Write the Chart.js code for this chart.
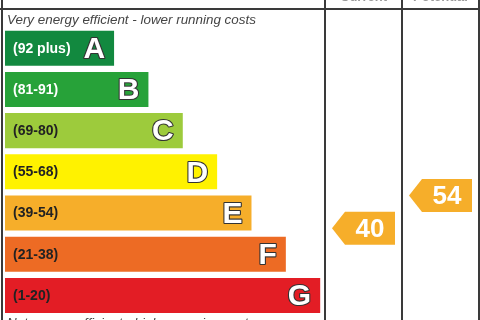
<!DOCTYPE html>
<html><head><meta charset="utf-8">
<script src="https://cdn.jsdelivr.net/npm/chart.js@4/dist/chart.umd.min.js"></script>
<style>html,body{margin:0;padding:0;background:#fff;overflow:hidden}#wrap{width:480px;height:320px;position:relative}</style>
</head><body><div id="wrap"><canvas id="c" width="480" height="320"></canvas></div>
<script>
// ---- data ----
const bands = ['A','B','C','D','E','F','G'];
const bandRanges = ['(92 plus)','(81-91)','(69-80)','(55-68)','(39-54)','(21-38)','(1-20)'];
const bandMin = [92,81,69,55,39,21,1];
const bandMax = [100,91,80,68,54,38,20];
const barSteps = [1,2,3,4,5,6,7];
const columnTitles = ['Current','Potential'];
const ratings = [40, 54];
const topNote = 'Very energy efficient - lower running costs';
const bottomNote = 'Not energy efficient - higher running costs';

// ---- styles ----
const bandColors = ['#12893f','#27a239','#9dcb3c','#fff200','#f6ae2a','#ed6b24','#e31d25'];
const rangeTextColors = ['#ffffff','#ffffff','#222222','#222222','#222222','#222222','#222222'];
const FONT = '"Liberation Sans", Arial, sans-serif';
const X_MIN = -2.175;

function bandIndex(v){ for(let i=0;i<bands.length;i++){ if(v>=bandMin[i]) return i; } return bands.length-1; }

const epcPlugin = {
  id: 'epc',
  afterDatasetsDraw(chart){
    const ctx = chart.ctx;
    const meta = chart.getDatasetMeta(0);
    ctx.save();
    // range labels and band letters
    meta.data.forEach((el, i) => {
      const left = el.base, right = el.x, cy = el.y;
      ctx.font = 'bold 14px ' + FONT;
      ctx.fillStyle = rangeTextColors[i];
      ctx.textAlign = 'left'; ctx.textBaseline = 'middle';
      ctx.fillText(bandRanges[i], left + 8, cy + 0.5);
      ctx.font = 'bold 30px ' + FONT;
      ctx.textAlign = 'right'; ctx.textBaseline = 'middle';
      ctx.lineWidth = 2.2; ctx.strokeStyle = '#333'; ctx.lineJoin = 'round';
      ctx.strokeText(bands[i], right - 9, cy + 1.5);
      ctx.fillStyle = '#fff';
      ctx.fillText(bands[i], right - 9, cy + 1.5);
    });
    // notes
    ctx.font = 'italic 13.4px ' + FONT;
    ctx.fillStyle = '#444'; ctx.textAlign = 'left'; ctx.textBaseline = 'alphabetic';
    ctx.fillText(topNote, 7, 24);
    ctx.fillText(bottomNote, 7, 326.5);
    // frame
    ctx.strokeStyle = '#3a3a3a'; ctx.lineWidth = 2;
    ctx.beginPath();
    ctx.moveTo(0, 9); ctx.lineTo(480, 9);
    [2, 325, 402, 479].forEach(x => { ctx.moveTo(x, 0); ctx.lineTo(x, 320); });
    ctx.stroke();
    // column titles (mostly cut off)
    const cols = [[325,402],[402,479]];
    ctx.font = 'bold 13px ' + FONT; ctx.fillStyle = '#999';
    ctx.textAlign = 'center'; ctx.textBaseline = 'alphabetic';
    cols.forEach((c, k) => ctx.fillText(columnTitles[k], (c[0]+c[1])/2, 0.5));
    // rating arrows
    ratings.forEach((v, k) => {
      const i = bandIndex(v);
      const el = meta.data[i];
      const f = (bandMax[i] - v) / (bandMax[i] - bandMin[i]);
      const cy = el.y - el.height/2 + f * el.height;
      const cx = (cols[k][0] + cols[k][1]) / 2;
      const w = 63, h = 33, tip = 13;
      const x0 = cx - w/2, x1 = cx + w/2;
      ctx.fillStyle = bandColors[i];
      ctx.beginPath();
      ctx.moveTo(x0, cy);
      ctx.lineTo(x0 + tip, cy - h/2);
      ctx.lineTo(x1, cy - h/2);
      ctx.lineTo(x1, cy + h/2);
      ctx.lineTo(x0 + tip, cy + h/2);
      ctx.closePath();
      ctx.fill();
      ctx.font = 'bold 26px ' + FONT;
      ctx.fillStyle = '#fff'; ctx.textAlign = 'center'; ctx.textBaseline = 'middle';
      ctx.fillText(String(v), (x0 + tip + x1)/2, cy + 1.5);
    });
    ctx.restore();
  }
};

new Chart(document.getElementById('c').getContext('2d'), {
  type: 'bar',
  data: {
    labels: bands,
    datasets: [{
      data: barSteps,
      base: X_MIN,
      backgroundColor: bandColors,
      borderWidth: 0,
      categoryPercentage: 0.85,
      barPercentage: 1
    }]
  },
  options: {
    indexAxis: 'y',
    responsive: false,
    animation: false,
    events: [],
    layout: { padding: { left: 5, right: 149.5, top: 27.6, bottom: 3.9 } },
    scales: {
      x: { type: 'linear', min: X_MIN, max: 7.3, display: false },
      y: { type: 'category', offset: true, display: false }
    },
    plugins: { legend: { display: false }, tooltip: { enabled: false } }
  },
  plugins: [epcPlugin]
});
</script>
</body></html>
